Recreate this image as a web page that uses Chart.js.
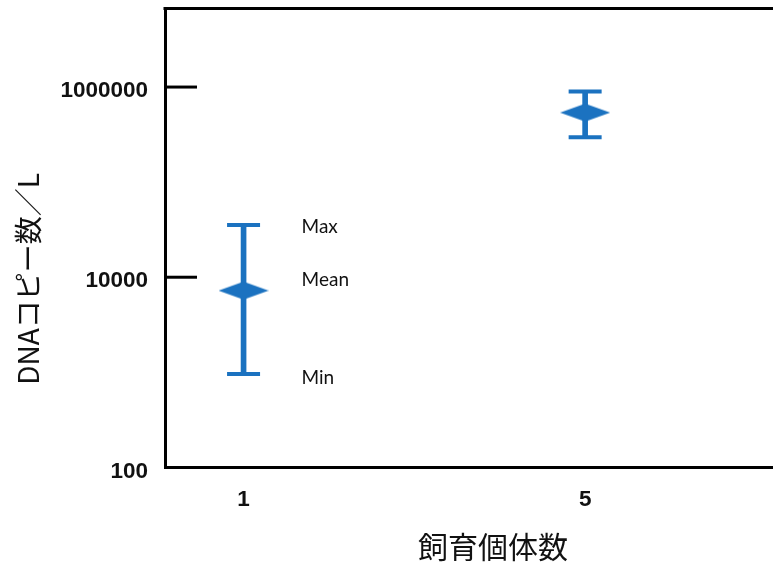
<!DOCTYPE html>
<html>
<head>
<meta charset="utf-8">
<script src="https://cdn.jsdelivr.net/npm/chart.js@4.4.1/dist/chart.umd.min.js"></script>
<style>
  html, body { margin: 0; padding: 0; background: #ffffff; }
  #c { display: block; }
</style>
</head>
<body>
<canvas id="c" width="773" height="563"></canvas>
<script>
// Number of reared individuals (x) and eDNA copies per litre (y)
const groupSizes  = [1, 5];
const copiesMax   = [35500, 897000];
const copiesMean  = [7230, 539000];
const copiesMin   = [962, 297000];
const yTickValues = [100, 10000, 1000000];
const statLabels  = ['Max', 'Mean', 'Min'];
const xTitleText  = '飼育個体数';
const yTitleText  = 'DNAコピー数／L';

const BLUE = '#1b72c0';
const INK = '#111111';
const tickFont = { family: '"Liberation Sans", Arial, sans-serif', size: 22.5, weight: 'bold' };

// flat diamond used as the marker for the mean
function diamondMarker(w, h, color) {
  const c = document.createElement('canvas');
  c.width = w; c.height = h;
  const g = c.getContext('2d');
  g.fillStyle = color;
  g.beginPath();
  g.moveTo(0, h / 2);
  g.lineTo(w / 2, 0);
  g.lineTo(w, h / 2);
  g.lineTo(w / 2, h);
  g.closePath();
  g.fill();
  return c;
}

// frame top line, inward tick marks, Max/Mean/Min notes and axis titles
const decorations = {
  id: 'decorations',
  afterDraw(chart) {
    const { ctx, chartArea: a, scales: { x, y } } = chart;
    ctx.save();
    ctx.strokeStyle = '#000';
    ctx.lineWidth = 3;
    ctx.beginPath();
    ctx.moveTo(a.left - 1.5, a.top);
    ctx.lineTo(a.right, a.top);
    ctx.stroke();

    yTickValues.slice(1).forEach(v => {
      const py = y.getPixelForValue(v);
      ctx.beginPath();
      ctx.moveTo(a.left, py);
      ctx.lineTo(a.left + 32, py);
      ctx.stroke();
    });

    ctx.fillStyle = INK;
    ctx.font = '19px Lato, "Noto Sans", sans-serif';
    ctx.textAlign = 'left';
    ctx.textBaseline = 'middle';
    const lx = x.getPixelForValue(groupSizes[0]) + 58;
    const notes = [[copiesMax[0], 2], [copiesMean[0], -11], [copiesMin[0], 3.5]];
    notes.forEach(([v, dy], i) => ctx.fillText(statLabels[i], lx, y.getPixelForValue(v) + dy));

    ctx.font = '30px "Noto Sans CJK JP", sans-serif';
    ctx.textAlign = 'center';
    ctx.fillText(xTitleText, 493, 547);

    ctx.translate(28, 279);
    ctx.rotate(-Math.PI / 2);
    ctx.font = '28px "Noto Sans CJK JP", sans-serif';
    ctx.fillText(yTitleText, 0, 0);
    ctx.restore();
  }
};

const ranges = groupSizes.map((g, i) => ({ x: g, y: [copiesMin[i], copiesMax[i]] }));
const caps = groupSizes.flatMap((g, i) => [{ x: g, y: copiesMax[i] }, { x: g, y: copiesMin[i] }]);
const means = groupSizes.map((g, i) => ({ x: g, y: copiesMean[i] }));

new Chart(document.getElementById('c'), {
  type: 'bar',
  data: {
    datasets: [
      {
        type: 'bar',
        data: ranges,
        backgroundColor: BLUE,
        borderWidth: 0,
        barThickness: 5,
        order: 3
      },
      {
        type: 'scatter',
        data: caps,
        pointStyle: 'line',
        radius: 16.5,
        hoverRadius: 16.5,
        borderColor: BLUE,
        borderWidth: 4,
        order: 2
      },
      {
        type: 'scatter',
        data: means,
        pointStyle: diamondMarker(50, 18, BLUE),
        radius: 10,
        order: 1
      }
    ]
  },
  options: {
    responsive: false,
    animation: false,
    events: [],
    layout: { autoPadding: false, padding: { top: 8.5, right: 0, bottom: 0, left: 0 } },
    plugins: { legend: { display: false }, tooltip: { enabled: false } },
    scales: {
      x: {
        type: 'linear',
        offset: false,
        bounds: 'data',
        min: 0.08,
        max: 7.2,
        afterBuildTicks: s => { s.ticks = groupSizes.map(v => ({ value: v })); },
        afterFit: s => { s.height = 95.6; s.paddingLeft = 0; s.paddingRight = 0; },
        ticks: { font: tickFont, color: INK, padding: 19, callback: v => String(v) },
        grid: { display: true, drawOnChartArea: false, drawTicks: false },
        border: { display: true, color: '#000', width: 3 }
      },
      y: {
        type: 'logarithmic',
        bounds: 'data',
        min: 100,
        max: 6.7e6,
        afterBuildTicks: s => { s.ticks = yTickValues.map(v => ({ value: v })); },
        afterFit: s => { s.width = 165; s.paddingTop = 0; s.paddingBottom = 0; },
        ticks: { font: tickFont, color: INK, padding: 17, labelOffset: 4, callback: v => String(v) },
        grid: { display: true, drawOnChartArea: false, drawTicks: false },
        border: { display: true, color: '#000', width: 3 }
      }
    }
  },
  plugins: [decorations]
});
</script>
</body>
</html>
